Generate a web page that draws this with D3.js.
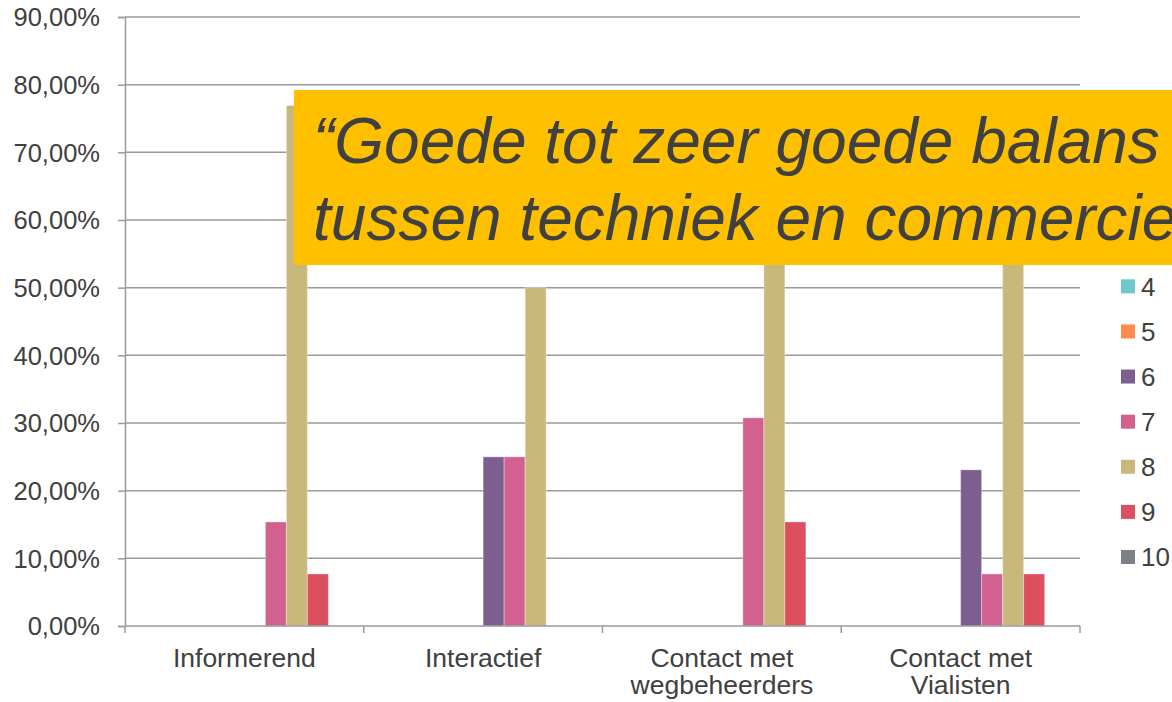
<!DOCTYPE html>
<html>
<head>
<meta charset="utf-8">
<script src="https://cdn.jsdelivr.net/npm/d3@7"></script>
<style>
  html, body { margin: 0; padding: 0; background: #fff; }
  svg { display: block; font-family: "Liberation Sans", Arial, sans-serif; }
</style>
</head>
<body>
<svg id="chart" width="1172" height="702"></svg>
<script>
// ---- data ----
const categories = ["Informerend", "Interactief", "Contact met wegbeheerders", "Contact met Vialisten"];
const categoryLines = [["Informerend"], ["Interactief"], ["Contact met", "wegbeheerders"], ["Contact met", "Vialisten"]];
const seriesNames = ["1", "2", "3", "4", "5", "6", "7", "8", "9", "10"];
const s1  = [0, 0, 0, 0];
const s2  = [0, 0, 0, 0];
const s3  = [0, 0, 0, 0];
const s4  = [0, 0, 0, 0];
const s5  = [0, 0, 0, 0];
const s6  = [0, 0.25, 0, 0.2308];
const s7  = [0.1538, 0.25, 0.3077, 0.0769];
const s8  = [0.7692, 0.50, 0.5385, 0.6154];
const s9  = [0.0769, 0, 0.1538, 0.0769];
const s10 = [0, 0, 0, 0];
const seriesValues = [s1, s2, s3, s4, s5, s6, s7, s8, s9, s10];
const seriesColors = ["#4A66AC", "#629DD1", "#297FD5", "#6DC8CC", "#FF8A4D", "#7D5F8F", "#D36190", "#C8B87B", "#DC4F5F", "#7B8087"];
const yTicks = [0, 0.1, 0.2, 0.3, 0.4, 0.5, 0.6, 0.7, 0.8, 0.9];
const titleLines = ["\u201CGoede tot zeer goede balans", "tussen techniek en commercie"];

(function () {
// ---- layout ----
const svg = d3.select("#chart");
const mLeft = 125, mRight = 1080, mTop = 17, mBottom = 626;
const textColor = "#404040";
const gridColor = "#9a9a9a";

const locale = d3.formatLocale({ decimal: ",", thousands: ".", grouping: [3], currency: ["€", ""] });
const fmt = locale.format(".2%");

const y = d3.scaleLinear().domain([0, 0.9]).range([mBottom, mTop]);
const x0 = d3.scaleBand().domain(categories).range([mLeft, mRight]).padding(0);
const groupW = 210;
const x1 = d3.scaleBand().domain(seriesNames)
  .range([(x0.bandwidth() - groupW) / 2, (x0.bandwidth() + groupW) / 2]).padding(0);

// gridlines
svg.append("g")
  .selectAll("line").data(yTicks.slice(1)).join("line")
  .attr("x1", mLeft).attr("x2", mRight)
  .attr("y1", d => y(d)).attr("y2", d => y(d))
  .attr("stroke", gridColor).attr("stroke-width", 1.5);

// bars
const rows = [];
seriesNames.forEach((s, si) => {
  categories.forEach((c, ci) => {
    rows.push({ s, c, v: seriesValues[si][ci], color: seriesColors[si] });
  });
});
svg.append("g")
  .selectAll("rect").data(rows.filter(d => d.v > 0)).join("rect")
  .attr("x", d => x0(d.c) + x1(d.s))
  .attr("y", d => y(d.v))
  .attr("width", x1.bandwidth())
  .attr("height", d => y(0) - y(d.v))
  .attr("fill", d => d.color)
  .attr("stroke", "rgba(255,255,255,0.35)")
  .attr("stroke-width", 1);

// y axis
const yAxis = d3.axisLeft(y).tickValues(yTicks).tickFormat(fmt).tickSize(7).tickPadding(18);
const gy = svg.append("g").attr("transform", `translate(${mLeft},0)`).call(yAxis);
gy.select(".domain").attr("stroke", gridColor).attr("stroke-width", 1.5);
gy.selectAll(".tick line").attr("stroke", gridColor).attr("stroke-width", 1.5);
gy.selectAll(".tick text").attr("fill", textColor).style("font-size", "25.5px")
  .style("font-family", "'Liberation Sans', Arial, sans-serif").attr("dy", "0.35em");

// x axis
const gx = svg.append("g").attr("transform", `translate(0,${mBottom})`);
gx.append("line").attr("x1", mLeft).attr("x2", mRight).attr("y1", 0).attr("y2", 0)
  .attr("stroke", gridColor).attr("stroke-width", 1.5);
const boundaries = categories.map(c => x0(c)).concat([mRight]);
gx.selectAll("line.tk").data(boundaries).join("line").attr("class", "tk")
  .attr("x1", d => d).attr("x2", d => d).attr("y1", 0).attr("y2", 7)
  .attr("stroke", gridColor).attr("stroke-width", 1.5);
const labels = gx.selectAll("text.cat").data(categories).join("text").attr("class", "cat")
  .attr("text-anchor", "middle").attr("fill", textColor).style("font-size", "26.5px");
labels.each(function(c, i) {
  const t = d3.select(this);
  categoryLines[i].forEach((line, li) => {
    t.append("tspan").attr("x", x0(c) + x0.bandwidth() / 2).attr("y", 41 + li * 27).text(line);
  });
});

// legend
const legend = svg.append("g");
const legendY = d3.scalePoint().domain(seriesNames).range([151, 557]);
const li = legend.selectAll("g").data(seriesNames).join("g")
  .attr("transform", d => `translate(1121,${legendY(d)})`);
li.append("rect").attr("x", 0).attr("y", -7).attr("width", 14).attr("height", 14)
  .attr("fill", (d, i) => seriesColors[i]);
li.append("text").attr("x", 20).attr("y", 0).attr("dy", "0.36em")
  .attr("fill", textColor).style("font-size", "26px").text(d => d);

// title box overlay
const box = svg.append("g");
box.append("rect").attr("x", 294).attr("y", 90).attr("width", 900).attr("height", 175).attr("fill", "#FFC000");
box.selectAll("text").data(titleLines).join("text")
  .attr("x", 313).attr("y", (d, i) => 163 + i * 77)
  .attr("fill", "#404040").style("font-size", "64px").style("font-style", "italic")
  .text(d => d);
})();
</script>
</body>
</html>
